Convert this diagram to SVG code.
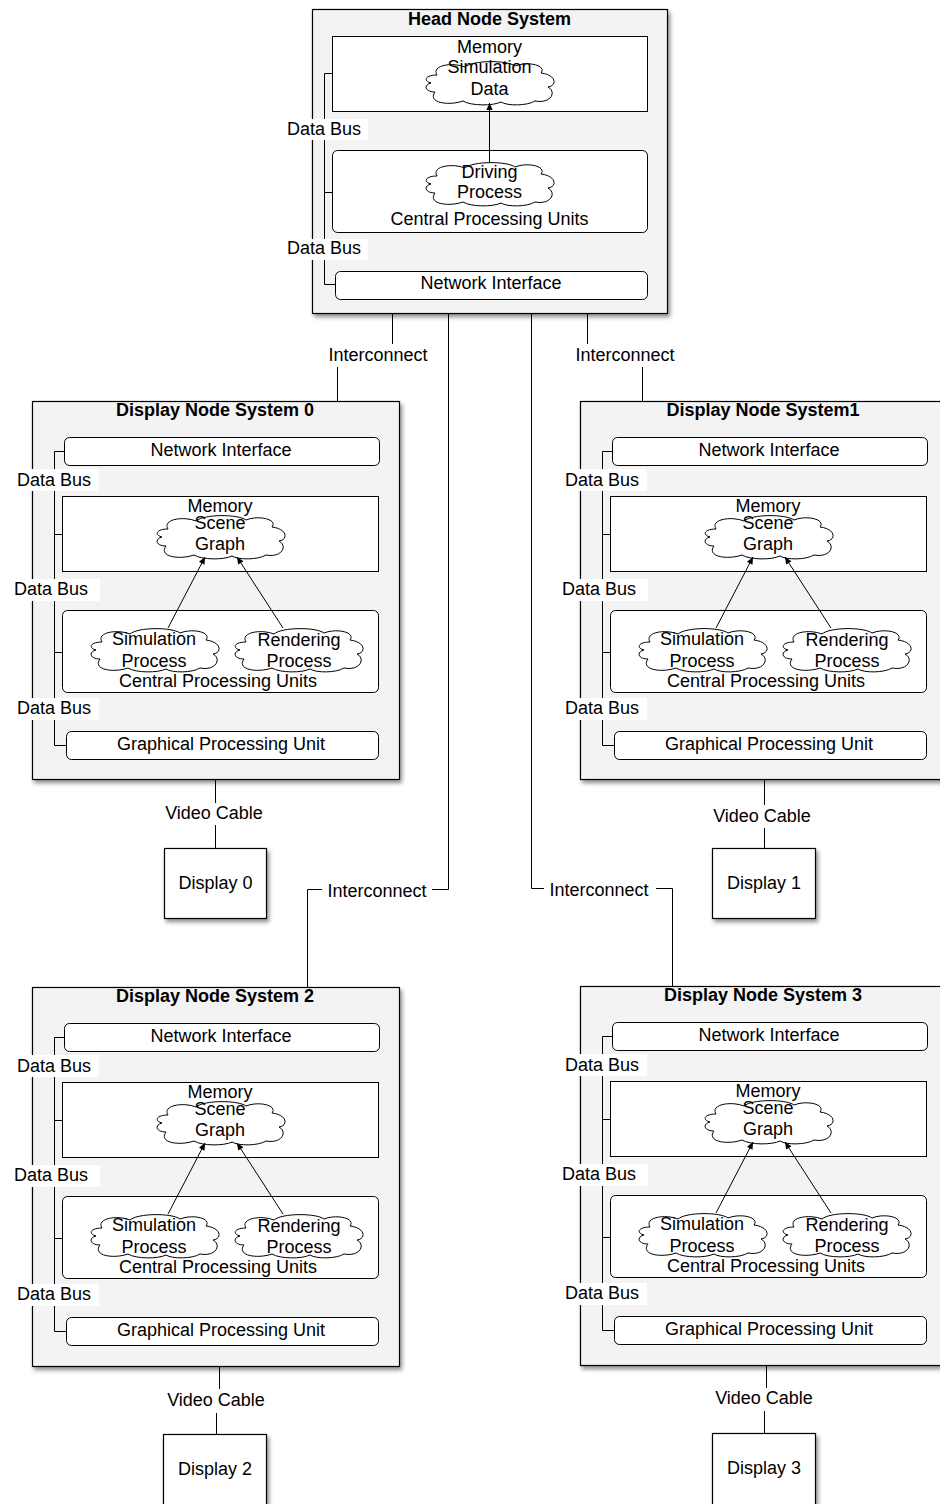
<svg xmlns="http://www.w3.org/2000/svg" xmlns:xlink="http://www.w3.org/1999/xlink" width="940" height="1504" viewBox="0 0 940 1504">
  <style>
    .t{font-family:"Liberation Sans",Arial,Helvetica,sans-serif;font-size:18px;fill:#000;text-anchor:middle}
    .b{font-weight:bold}
    .outer{fill:#f3f3f3;stroke:#000;stroke-width:1.2;filter:url(#shadow)}
    .inner{fill:#fff;stroke:#000;stroke-width:1}
    .display{fill:#fff;stroke:#000;stroke-width:1.2;filter:url(#shadow)}
    .cloud{fill:#fff;stroke:#000;stroke-width:1}
    .ln{fill:none;stroke:#000;stroke-width:1}
    .bg{fill:#fff}
  </style>
  <defs>
    <filter id="shadow" x="-10%" y="-10%" width="125%" height="125%">
      <feDropShadow dx="2" dy="3" stdDeviation="2" flood-color="#000" flood-opacity="0.45"/>
    </filter>
    <marker id="arrow" viewBox="0 0 10 10" refX="10" refY="5" markerWidth="8" markerHeight="7" markerUnits="userSpaceOnUse" orient="auto">
      <path d="M0,0.5 L10,5 L0,9.5 Z" fill="#000"/>
    </marker>
    <!-- cloud outline, about 132 x 43 -->
    <path id="cloud" class="cloud" d="M14,14 C8,4 30,1 42,6 C50,-1 84,-1 92,5 C104,0 124,4 118,12 C134,14 134,25 125,26 C134,31 128,43 112,40 C104,45 84,45 78,41 C70,45 48,45 40,40 C26,45 4,42 12,31 C2,31 0,24 8,22 C0,20 2,14 14,14 Z"/>
  </defs>

  <!-- head node -->
  <g id="head-node">
    <rect class="outer" x="312.5" y="9.5" width="355" height="304"/>
    <text class="t b" x="489.5" y="25">Head Node System</text>
    <g id="head-memory">
      <rect class="inner" x="332.5" y="36.5" width="315" height="75"/>
      <use xlink:href="#cloud" href="#cloud" x="423" y="61"/>
      <text class="t" x="489.5" y="53">Memory</text>
      <text class="t" x="489.5" y="73">Simulation</text>
      <text class="t" x="489.5" y="95">Data</text>
    </g>
    <g id="head-cpu">
      <rect class="inner" x="332.5" y="150.5" width="315" height="82" rx="5"/>
      <use xlink:href="#cloud" href="#cloud" x="423" y="162"/>
      <text class="t" x="489.5" y="178">Driving</text>
      <text class="t" x="489.5" y="198">Process</text>
      <text class="t" x="489.5" y="225">Central Processing Units</text>
    </g>
    <g id="head-nic">
      <rect class="inner" x="335.5" y="271.5" width="312" height="28" rx="5"/>
      <text class="t" x="491" y="289">Network Interface</text>
    </g>
  </g>

  <!-- display node 0 -->
  <g id="display-node-0">
    <rect class="outer" x="32.5" y="401.5" width="367" height="378"/>
    <text class="t b" x="215" y="416">Display Node System 0</text>
    <g id="dn0-nic">
      <rect class="inner" x="64.5" y="437.5" width="315" height="28" rx="5"/>
      <text class="t" x="221" y="456">Network Interface</text>
    </g>
    <g id="dn0-memory">
      <rect class="inner" x="62.5" y="496.5" width="316" height="75"/>
      <use xlink:href="#cloud" href="#cloud" x="154" y="515"/>
      <text class="t" x="220" y="512">Memory</text>
      <text class="t" x="220" y="529">Scene</text>
      <text class="t" x="220" y="550">Graph</text>
    </g>
    <g id="dn0-cpu">
      <rect class="inner" x="62.5" y="610.5" width="316" height="82" rx="5"/>
      <use xlink:href="#cloud" href="#cloud" x="88" y="628"/>
      <use xlink:href="#cloud" href="#cloud" x="232" y="628"/>
      <text class="t" x="154" y="645">Simulation</text>
      <text class="t" x="154" y="667">Process</text>
      <text class="t" x="299" y="646">Rendering</text>
      <text class="t" x="299" y="667">Process</text>
      <text class="t" x="218" y="687">Central Processing Units</text>
    </g>
    <g id="dn0-gpu">
      <rect class="inner" x="66.5" y="731.5" width="312" height="28" rx="5"/>
      <text class="t" x="221" y="750">Graphical Processing Unit</text>
    </g>
  </g>

  <!-- display node 1 -->
  <g id="display-node-1" transform="translate(548,0)">
    <rect class="outer" x="32.5" y="401.5" width="367" height="378"/>
    <text class="t b" x="215" y="416">Display Node System1</text>
    <g id="dn1-nic">
      <rect class="inner" x="64.5" y="437.5" width="315" height="28" rx="5"/>
      <text class="t" x="221" y="456">Network Interface</text>
    </g>
    <g id="dn1-memory">
      <rect class="inner" x="62.5" y="496.5" width="316" height="75"/>
      <use xlink:href="#cloud" href="#cloud" x="154" y="515"/>
      <text class="t" x="220" y="512">Memory</text>
      <text class="t" x="220" y="529">Scene</text>
      <text class="t" x="220" y="550">Graph</text>
    </g>
    <g id="dn1-cpu">
      <rect class="inner" x="62.5" y="610.5" width="316" height="82" rx="5"/>
      <use xlink:href="#cloud" href="#cloud" x="88" y="628"/>
      <use xlink:href="#cloud" href="#cloud" x="232" y="628"/>
      <text class="t" x="154" y="645">Simulation</text>
      <text class="t" x="154" y="667">Process</text>
      <text class="t" x="299" y="646">Rendering</text>
      <text class="t" x="299" y="667">Process</text>
      <text class="t" x="218" y="687">Central Processing Units</text>
    </g>
    <g id="dn1-gpu">
      <rect class="inner" x="66.5" y="731.5" width="312" height="28" rx="5"/>
      <text class="t" x="221" y="750">Graphical Processing Unit</text>
    </g>
  </g>

  <!-- display node 2 -->
  <g id="display-node-2" transform="translate(0,586)">
    <rect class="outer" x="32.5" y="401.5" width="367" height="379"/>
    <text class="t b" x="215" y="416">Display Node System 2</text>
    <g id="dn2-nic">
      <rect class="inner" x="64.5" y="437.5" width="315" height="28" rx="5"/>
      <text class="t" x="221" y="456">Network Interface</text>
    </g>
    <g id="dn2-memory">
      <rect class="inner" x="62.5" y="496.5" width="316" height="75"/>
      <use xlink:href="#cloud" href="#cloud" x="154" y="515"/>
      <text class="t" x="220" y="512">Memory</text>
      <text class="t" x="220" y="529">Scene</text>
      <text class="t" x="220" y="550">Graph</text>
    </g>
    <g id="dn2-cpu">
      <rect class="inner" x="62.5" y="610.5" width="316" height="82" rx="5"/>
      <use xlink:href="#cloud" href="#cloud" x="88" y="628"/>
      <use xlink:href="#cloud" href="#cloud" x="232" y="628"/>
      <text class="t" x="154" y="645">Simulation</text>
      <text class="t" x="154" y="667">Process</text>
      <text class="t" x="299" y="646">Rendering</text>
      <text class="t" x="299" y="667">Process</text>
      <text class="t" x="218" y="687">Central Processing Units</text>
    </g>
    <g id="dn2-gpu">
      <rect class="inner" x="66.5" y="731.5" width="312" height="28" rx="5"/>
      <text class="t" x="221" y="750">Graphical Processing Unit</text>
    </g>
  </g>

  <!-- display node 3 -->
  <g id="display-node-3" transform="translate(548,585)">
    <rect class="outer" x="32.5" y="401.5" width="367" height="379"/>
    <text class="t b" x="215" y="416">Display Node System 3</text>
    <g id="dn3-nic">
      <rect class="inner" x="64.5" y="437.5" width="315" height="28" rx="5"/>
      <text class="t" x="221" y="456">Network Interface</text>
    </g>
    <g id="dn3-memory">
      <rect class="inner" x="62.5" y="496.5" width="316" height="75"/>
      <use xlink:href="#cloud" href="#cloud" x="154" y="515"/>
      <text class="t" x="220" y="512">Memory</text>
      <text class="t" x="220" y="529">Scene</text>
      <text class="t" x="220" y="550">Graph</text>
    </g>
    <g id="dn3-cpu">
      <rect class="inner" x="62.5" y="610.5" width="316" height="82" rx="5"/>
      <use xlink:href="#cloud" href="#cloud" x="88" y="628"/>
      <use xlink:href="#cloud" href="#cloud" x="232" y="628"/>
      <text class="t" x="154" y="645">Simulation</text>
      <text class="t" x="154" y="667">Process</text>
      <text class="t" x="299" y="646">Rendering</text>
      <text class="t" x="299" y="667">Process</text>
      <text class="t" x="218" y="687">Central Processing Units</text>
    </g>
    <g id="dn3-gpu">
      <rect class="inner" x="66.5" y="731.5" width="312" height="28" rx="5"/>
      <text class="t" x="221" y="750">Graphical Processing Unit</text>
    </g>
  </g>

  <!-- displays -->
  <g id="display-0">
    <rect class="display" x="164.5" y="848.5" width="102" height="70"/>
    <text class="t" x="215.5" y="889">Display 0</text>
  </g>
  <g id="display-1">
    <rect class="display" x="712.5" y="848.5" width="103" height="70"/>
    <text class="t" x="764" y="889">Display 1</text>
  </g>
  <g id="display-2">
    <rect class="display" x="163.5" y="1434.5" width="103" height="72"/>
    <text class="t" x="215" y="1475">Display 2</text>
  </g>
  <g id="display-3">
    <rect class="display" x="712.5" y="1433.5" width="103" height="73"/>
    <text class="t" x="764" y="1474">Display 3</text>
  </g>

  <!-- connectors -->
  <g id="connectors">
    <!-- head node internals -->
    <g id="head-bus">
      <path class="ln" d="M332,73.5 H324.5 V284.5 H335 M324.5,192.5 H332"/>
      <path class="ln" d="M489.5,162 V103" marker-end="url(#arrow)"/>
      <rect class="bg" x="284" y="119" width="84" height="21"/>
      <text class="t" x="324" y="135">Data Bus</text>
      <rect class="bg" x="284" y="239" width="84" height="21"/>
      <text class="t" x="324" y="254">Data Bus</text>
    </g>

    <!-- display node internals -->
    <g id="dn0-bus">
      <path class="ln" d="M64,451.5 H54.5 V745.5 H66 M54.5,534.5 H62 M54.5,652.5 H62"/>
      <path class="ln" d="M168,628 L205,557" marker-end="url(#arrow)"/>
      <path class="ln" d="M283,628 L237,557" marker-end="url(#arrow)"/>
      <rect class="bg" x="14" y="469" width="85" height="22"/>
      <text class="t" x="54" y="486">Data Bus</text>
      <rect class="bg" x="12" y="579" width="88" height="22"/>
      <text class="t" x="51" y="595">Data Bus</text>
      <rect class="bg" x="14" y="698" width="85" height="22"/>
      <text class="t" x="54" y="714">Data Bus</text>
    </g>
    <g id="dn1-bus" transform="translate(548,0)">
      <path class="ln" d="M64,451.5 H54.5 V745.5 H66 M54.5,534.5 H62 M54.5,652.5 H62"/>
      <path class="ln" d="M168,628 L205,557" marker-end="url(#arrow)"/>
      <path class="ln" d="M283,628 L237,557" marker-end="url(#arrow)"/>
      <rect class="bg" x="14" y="469" width="85" height="22"/>
      <text class="t" x="54" y="486">Data Bus</text>
      <rect class="bg" x="12" y="579" width="88" height="22"/>
      <text class="t" x="51" y="595">Data Bus</text>
      <rect class="bg" x="14" y="698" width="85" height="22"/>
      <text class="t" x="54" y="714">Data Bus</text>
    </g>
    <g id="dn2-bus" transform="translate(0,586)">
      <path class="ln" d="M64,451.5 H54.5 V745.5 H66 M54.5,534.5 H62 M54.5,652.5 H62"/>
      <path class="ln" d="M168,628 L205,557" marker-end="url(#arrow)"/>
      <path class="ln" d="M283,628 L237,557" marker-end="url(#arrow)"/>
      <rect class="bg" x="14" y="469" width="85" height="22"/>
      <text class="t" x="54" y="486">Data Bus</text>
      <rect class="bg" x="12" y="579" width="88" height="22"/>
      <text class="t" x="51" y="595">Data Bus</text>
      <rect class="bg" x="14" y="698" width="85" height="22"/>
      <text class="t" x="54" y="714">Data Bus</text>
    </g>
    <g id="dn3-bus" transform="translate(548,585)">
      <path class="ln" d="M64,451.5 H54.5 V745.5 H66 M54.5,534.5 H62 M54.5,652.5 H62"/>
      <path class="ln" d="M168,628 L205,557" marker-end="url(#arrow)"/>
      <path class="ln" d="M283,628 L237,557" marker-end="url(#arrow)"/>
      <rect class="bg" x="14" y="469" width="85" height="22"/>
      <text class="t" x="54" y="486">Data Bus</text>
      <rect class="bg" x="12" y="579" width="88" height="22"/>
      <text class="t" x="51" y="595">Data Bus</text>
      <rect class="bg" x="14" y="698" width="85" height="22"/>
      <text class="t" x="54" y="714">Data Bus</text>
    </g>

    <!-- interconnects from the head node -->
    <g id="interconnect-0">
      <path class="ln" d="M392.5,314 V355.5 H337.5 V401"/>
      <rect class="bg" x="326" y="344" width="104" height="23"/>
      <text class="t" x="378" y="361">Interconnect</text>
    </g>
    <g id="interconnect-1">
      <path class="ln" d="M587.5,314 V355.5 H642.5 V401"/>
      <rect class="bg" x="573" y="344" width="104" height="23"/>
      <text class="t" x="625" y="361">Interconnect</text>
    </g>
    <g id="interconnect-2">
      <path class="ln" d="M448.5,314 V889.5 H307.5 V987"/>
      <rect class="bg" x="322" y="878" width="110" height="23"/>
      <text class="t" x="377" y="896.5">Interconnect</text>
    </g>
    <g id="interconnect-3">
      <path class="ln" d="M531.5,314 V888.5 H672.5 V986"/>
      <rect class="bg" x="544" y="877" width="112" height="23"/>
      <text class="t" x="599" y="896">Interconnect</text>
    </g>

    <!-- video cables -->
    <g id="video-cable-0">
      <path class="ln" d="M215.5,780 V848"/>
      <rect class="bg" x="162" y="803" width="106" height="22"/>
      <text class="t" x="214" y="819">Video Cable</text>
    </g>
    <g id="video-cable-1">
      <path class="ln" d="M764.5,780 V848"/>
      <rect class="bg" x="710" y="805" width="106" height="23"/>
      <text class="t" x="762" y="822">Video Cable</text>
    </g>
    <g id="video-cable-2">
      <path class="ln" d="M219.5,1367 V1400 H216.5 V1434"/>
      <rect class="bg" x="164" y="1389" width="106" height="24"/>
      <text class="t" x="216" y="1406">Video Cable</text>
    </g>
    <g id="video-cable-3">
      <path class="ln" d="M766.5,1366 V1399 H764.5 V1433"/>
      <rect class="bg" x="712" y="1388" width="106" height="23"/>
      <text class="t" x="764" y="1404">Video Cable</text>
    </g>
  </g>
</svg>
